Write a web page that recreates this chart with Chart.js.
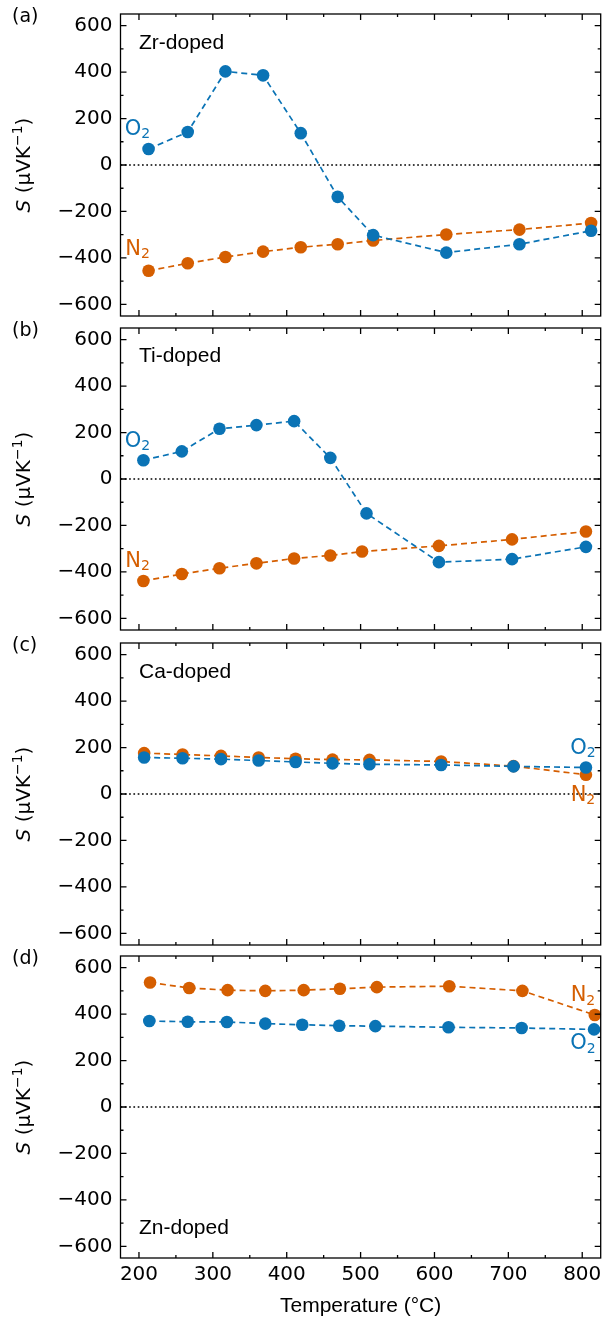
<!DOCTYPE html>
<html>
<head>
<meta charset="utf-8">
<script src="https://cdn.jsdelivr.net/npm/chart.js@4.4.1/dist/chart.umd.min.js"></script>
<style>
  html, body { margin: 0; padding: 0; background: #ffffff; }
  #wrap { position: relative; width: 607px; height: 1324px; overflow: hidden; }
  .panel { position: absolute; left: 0; width: 607px; }
</style>
</head>
<body>
<div id="wrap">
  <div class="panel" style="top:0px;height:330px"><canvas id="panelA"></canvas></div>
  <div class="panel" style="top:314px;height:330px"><canvas id="panelB"></canvas></div>
  <div class="panel" style="top:629px;height:330px"><canvas id="panelC"></canvas></div>
  <div class="panel" style="top:942px;height:382px"><canvas id="panelD"></canvas></div>
</div>
<script>
// Seebeck coefficient vs temperature, four dopants, O2 and N2 atmospheres

const xTicks = [200, 300, 400, 500, 600, 700, 800];
const xMinor = [200, 250, 300, 350, 400, 450, 500, 550, 600, 650, 700, 750, 800];
const yTicks = [-600, -400, -200, 0, 200, 400, 600];
const yMinor = [-600, -500, -400, -300, -200, -100, 0, 100, 200, 300, 400, 500, 600];

// (a) Zr-doped
const zrTemp = [213, 266, 317, 368, 419, 469, 517, 616, 715, 812];
const zrO2 = [69, 142, 403, 386, 137, -137, -302, -377, -341, -283];
const zrN2 = [-455, -423, -396, -373, -354, -341, -325, -299, -278, -250];

// (b) Ti-doped
const tiTempO2 = [206, 258, 309, 359, 410, 459, 508, 606, 705, 805];
const tiTempN2 = [206, 258, 309, 359, 410, 459, 502, 606, 705, 805];
const tiO2 = [81, 119, 216, 232, 249, 91, -148, -358, -345, -292];
const tiN2 = [-439, -409, -384, -363, -342, -329, -312, -288, -260, -226];

// (c) Ca-doped
const caTemp = [207, 259, 311, 362, 412, 462, 512, 609, 707, 805];
const caO2 = [157, 154, 150, 144, 138, 132, 128, 125, 119, 114];
const caN2 = [176, 170, 164, 157, 152, 148, 147, 140, 120, 83];

// (d) Zn-doped
const znTempO2 = [214, 266, 319, 371, 421, 471, 520, 619, 718, 816];
const znTempN2 = [215, 268, 320, 371, 423, 472, 522, 620, 719, 817];
const znO2 = [370, 367, 366, 359, 354, 350, 348, 343, 340, 334];
const znN2 = [536, 512, 503, 500, 503, 509, 516, 520, 500, 396];

const BLUE = '#0A73B5';
const ORANGE = '#D55E00';
const TICK_FONT = "'DejaVu Sans', sans-serif";
const TEXT_FONT = "'Liberation Sans', Arial, sans-serif";

const panels = [
    { id: 'panelA', letter: '(a)', name: 'Zr-doped', nameAt: [200, 525],
      tO2: zrTemp, sO2: zrO2, tN2: zrTemp, sN2: zrN2,
      o2At: [198, 152], n2At: [198, -365], xAxis: false },
    { id: 'panelB', letter: '(b)', name: 'Ti-doped', nameAt: [200, 527],
      tO2: tiTempO2, sO2: tiO2, tN2: tiTempN2, sN2: tiN2,
      o2At: [198, 161], n2At: [198, -354], xAxis: false },
    { id: 'panelC', letter: '(c)', name: 'Ca-doped', nameAt: [200, 523],
      tO2: caTemp, sO2: caO2, tN2: caTemp, sN2: caN2,
      o2At: [801, 195], n2At: [801, -5], xAxis: false },
    { id: 'panelD', letter: '(d)', name: 'Zn-doped', nameAt: [200, -521],
      tO2: znTempO2, sO2: znO2, tN2: znTempN2, sN2: znN2,
      o2At: [801, 271], n2At: [801, 478], xAxis: true }
];

function toPoints(xs, ys) {
    return xs.map((x, i) => ({ x: x, y: ys[i] }));
}

function fmt(v) {
    return v < 0 ? '\u2212' + Math.abs(v) : String(v);
}

// text with a subscript, centred on (cx, cy)
function drawGas(ctx, base, sub, cx, cy, color) {
    ctx.save();
    ctx.fillStyle = color;
    ctx.textBaseline = 'middle';
    ctx.textAlign = 'left';
    ctx.font = '21px ' + TICK_FONT;
    const w1 = ctx.measureText(base).width;
    ctx.font = '14px ' + TICK_FONT;
    const w2 = ctx.measureText(sub).width;
    const x0 = cx - (w1 + w2) / 2;
    ctx.font = '21px ' + TICK_FONT;
    ctx.fillText(base, x0, cy);
    ctx.font = '14px ' + TICK_FONT;
    ctx.fillText(sub, x0 + w1, cy + 5);
    ctx.restore();
}

const decorPlugin = {
    id: 'decor',
    beforeDatasetsDraw(chart) {
        const { ctx, chartArea: a, scales } = chart;
        const y0 = scales.y.getPixelForValue(0);
        ctx.save();
        ctx.strokeStyle = '#000';
        ctx.lineWidth = 1.7;
        ctx.setLineDash([1.7, 2.6]);
        ctx.beginPath();
        ctx.moveTo(a.left, y0);
        ctx.lineTo(a.right, y0);
        ctx.stroke();
        ctx.restore();
    },
    afterDraw(chart) {
        const { ctx, chartArea: a, scales } = chart;
        const p = chart.options.plugins.decor;
        const xs = scales.x, ys = scales.y;
        ctx.save();
        ctx.strokeStyle = '#000';
        ctx.lineWidth = 1.3;
        ctx.setLineDash([]);
        // inward ticks on all four sides
        ctx.beginPath();
        xMinor.forEach(v => {
            const px = xs.getPixelForValue(v);
            ctx.moveTo(px, a.bottom); ctx.lineTo(px, a.bottom - 3);
            ctx.moveTo(px, a.top); ctx.lineTo(px, a.top + 3);
        });
        xTicks.forEach(v => {
            const px = xs.getPixelForValue(v);
            ctx.moveTo(px, a.bottom); ctx.lineTo(px, a.bottom - 6);
            ctx.moveTo(px, a.top); ctx.lineTo(px, a.top + 6);
        });
        yMinor.forEach(v => {
            const py = ys.getPixelForValue(v);
            ctx.moveTo(a.left, py); ctx.lineTo(a.left + 3, py);
            ctx.moveTo(a.right, py); ctx.lineTo(a.right - 3, py);
        });
        yTicks.forEach(v => {
            const py = ys.getPixelForValue(v);
            ctx.moveTo(a.left, py); ctx.lineTo(a.left + 6, py);
            ctx.moveTo(a.right, py); ctx.lineTo(a.right - 6, py);
        });
        ctx.stroke();
        ctx.strokeRect(a.left, a.top, a.right - a.left, a.bottom - a.top);

        // panel letter
        ctx.fillStyle = '#000';
        ctx.font = '19px ' + TICK_FONT;
        ctx.textAlign = 'left';
        ctx.textBaseline = 'middle';
        ctx.fillText(p.letter, 12, a.top + 3);

        // dopant name
        ctx.font = '21px ' + TEXT_FONT;
        ctx.fillText(p.name, xs.getPixelForValue(p.nameAt[0]), ys.getPixelForValue(p.nameAt[1]));

        // y-axis label: S (μVK^-1)
        const midY = (a.top + a.bottom) / 2;
        ctx.translate(25, midY);
        ctx.rotate(-Math.PI / 2);
        const parts = [
            { t: 'S', f: 'italic 20px ' + TICK_FONT, dy: 0 },
            { t: ' (\u03BCVK', f: '20px ' + TICK_FONT, dy: 0 },
            { t: '\u22121', f: '14px ' + TICK_FONT, dy: -7 },
            { t: ')', f: '20px ' + TICK_FONT, dy: 0 }
        ];
        let total = 0;
        parts.forEach(q => { ctx.font = q.f; q.w = ctx.measureText(q.t).width; total += q.w; });
        let xx = -total / 2;
        parts.forEach(q => { ctx.font = q.f; ctx.fillText(q.t, xx, q.dy); xx += q.w; });
        ctx.restore();

        // gas labels
        drawGas(ctx, 'O', '2', xs.getPixelForValue(p.o2At[0]), ys.getPixelForValue(p.o2At[1]), BLUE);
        drawGas(ctx, 'N', '2', xs.getPixelForValue(p.n2At[0]), ys.getPixelForValue(p.n2At[1]), ORANGE);

        // x-axis title on the bottom panel
        if (p.xAxis) {
            ctx.save();
            ctx.fillStyle = '#000';
            ctx.font = '21px ' + TEXT_FONT;
            ctx.textAlign = 'center';
            ctx.textBaseline = 'middle';
            ctx.fillText('Temperature (\u00B0C)', (a.left + a.right) / 2, a.bottom + 48);
            ctx.restore();
        }
    }
};

function makeSet(label, xs, ys, color) {
    return {
        label: label,
        data: toPoints(xs, ys),
        borderColor: color,
        backgroundColor: color,
        borderWidth: 1.7,
        borderDash: [6, 4],
        pointRadius: 6.3,
        pointHoverRadius: 6.3,
        pointBorderWidth: 0,
        pointBackgroundColor: color,
        tension: 0,
        clip: false,
        fill: false
    };
}

panels.forEach(p => {
    const ctx = document.getElementById(p.id).getContext('2d');
    new Chart(ctx, {
        type: 'line',
        data: {
            datasets: [
                makeSet('O2', p.tO2, p.sO2, BLUE),
                makeSet('N2', p.tN2, p.sN2, ORANGE)
            ]
        },
        options: {
            responsive: true,
            maintainAspectRatio: false,
            animation: false,
            events: [],
            layout: { padding: { top: 14, right: 4.5, bottom: p.xAxis ? 0 : 14, left: 0 } },
            scales: {
                x: {
                    type: 'linear',
                    min: 175,
                    max: 825,
                    display: p.xAxis,
                    border: { display: false },
                    grid: { display: false, drawTicks: false },
                    afterBuildTicks: s => { s.ticks = xTicks.map(v => ({ value: v })); },
                    afterFit: s => { s.height = p.xAxis ? 66 : 0; s.paddingLeft = 0; s.paddingRight = 0; },
                    ticks: {
                        padding: 5,
                        color: '#000',
                        font: { family: TICK_FONT, size: 20 },
                        maxRotation: 0,
                        callback: v => fmt(v)
                    }
                },
                y: {
                    type: 'linear',
                    min: -650,
                    max: 650,
                    border: { display: false },
                    grid: { display: false, drawTicks: false },
                    afterBuildTicks: s => { s.ticks = yTicks.map(v => ({ value: v })); },
                    afterFit: s => { s.width = 120.5; s.paddingTop = 0; s.paddingBottom = 0; },
                    ticks: {
                        padding: 8,
                        color: '#000',
                        font: { family: TICK_FONT, size: 20 },
                        callback: v => fmt(v)
                    }
                }
            },
            plugins: {
                legend: { display: false },
                tooltip: { enabled: false },
                decor: p
            }
        },
        plugins: [decorPlugin]
    });
});
</script>
</body>
</html>
